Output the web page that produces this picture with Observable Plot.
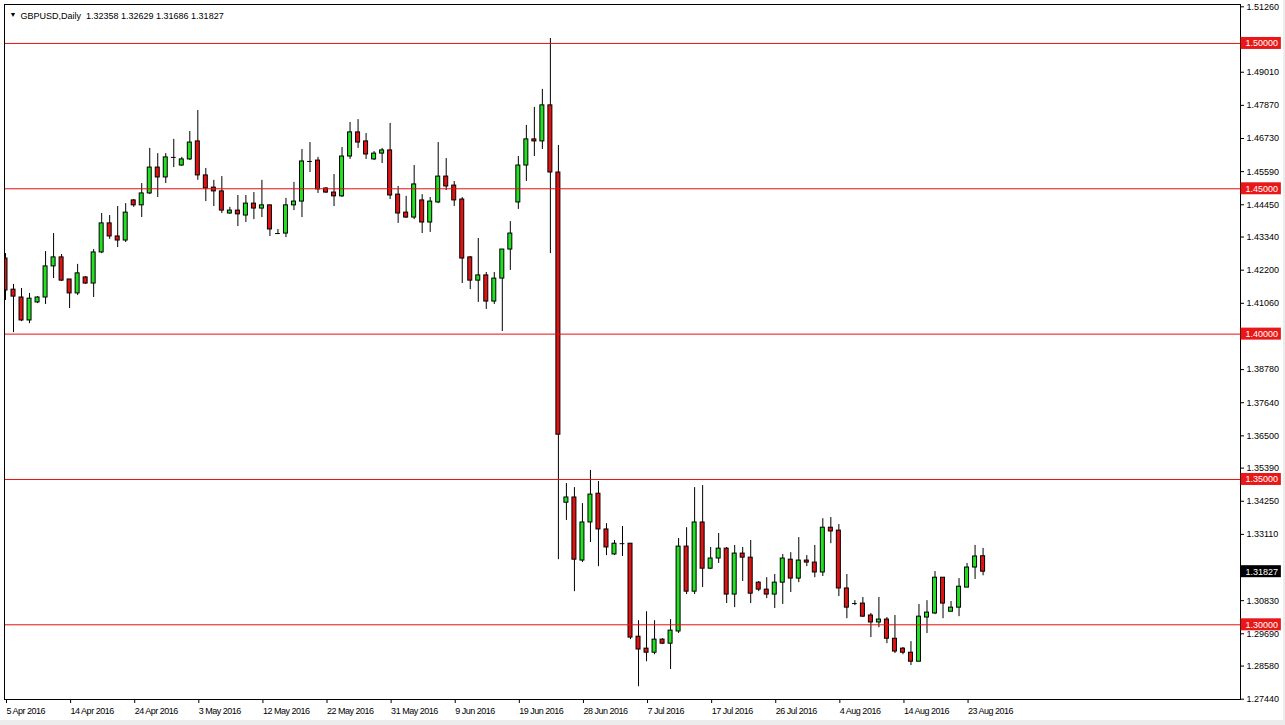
<!DOCTYPE html>
<html><head><meta charset="utf-8">
<script src="https://cdn.jsdelivr.net/npm/d3@7"></script>
<script src="https://cdn.jsdelivr.net/npm/@observablehq/plot@0.6"></script>
<style>
html,body{margin:0;padding:0;background:#ececec;}
#chart{width:1285px;height:725px;}
#chart svg{display:block;}
g[aria-label="x-axis tick label"] text{letter-spacing:-0.5px;}
</style></head><body><div id="chart"></div>
<script>
const symbol = "GBPUSD";
const timeframe = "Daily";
const open = [1.4260,1.4153,1.4126,1.4047,1.4109,1.4126,1.4233,1.4264,1.4188,1.4140,
1.4195,1.4174,1.4281,1.4381,1.4336,1.4322,1.4460,1.4443,1.4484,1.4573,
1.4539,1.4608,1.4580,1.4601,1.4663,1.4546,1.4504,1.4491,1.4415,1.4425,
1.4408,1.4449,1.4432,1.4443,1.4346,1.4346,1.4443,1.4456,1.4594,1.4597,
1.4501,1.4487,1.4474,1.4611,1.4694,1.4663,1.4601,1.4621,1.4632,1.4480,
1.4418,1.4401,1.4460,1.4384,1.4453,1.4542,1.4511,1.4463,1.4264,1.4184,
1.4202,1.4112,1.4191,1.4291,1.4453,1.4580,1.4670,1.4663,1.4787,1.4556,
1.3420,1.3438,1.3221,1.3352,1.3451,1.3328,1.3242,1.3279,1.3279,1.2959,
1.2918,1.2904,1.2949,1.2935,1.2977,1.3269,1.3114,1.3352,1.3193,1.3228,
1.3262,1.3104,1.3245,1.3231,1.3145,1.3121,1.3104,1.3145,1.3224,1.3159,
1.3221,1.3214,1.3180,1.3334,1.3324,1.3125,1.3073,1.3073,1.3032,1.3008,
1.3018,1.2952,1.2918,1.2904,1.2873,1.3025,1.3039,1.3162,1.3045,1.3059,
1.3128,1.3197,1.32358];
const high = [1.4277,1.4171,1.4157,1.4140,1.4129,1.4284,1.4346,1.4274,1.4188,1.4240,
1.4198,1.4291,1.4415,1.4408,1.4439,1.4449,1.4463,1.4518,1.4639,1.4621,
1.4621,1.4670,1.4608,1.4697,1.4769,1.4570,1.4529,1.4542,1.4436,1.4477,
1.4477,1.4487,1.4529,1.4443,1.4360,1.4467,1.4522,1.4635,1.4659,1.4608,
1.4504,1.4549,1.4642,1.4728,1.4738,1.4690,1.4628,1.4639,1.4725,1.4508,
1.4474,1.4580,1.4480,1.4470,1.4659,1.4604,1.4525,1.4470,1.4267,1.4329,
1.4212,1.4212,1.4291,1.4387,1.4611,1.4718,1.4780,1.4842,1.5017,1.4649,
1.3486,1.3472,1.3417,1.3531,1.3493,1.3348,1.3290,1.3338,1.3279,1.3014,
1.3045,1.3014,1.2952,1.3018,1.3297,1.3334,1.3472,1.3479,1.3266,1.3314,
1.3266,1.3273,1.3266,1.3290,1.3149,1.3162,1.3173,1.3242,1.3248,1.3300,
1.3238,1.3273,1.3365,1.3369,1.3345,1.3173,1.3083,1.3094,1.3039,1.3094,
1.3025,1.3032,1.2922,1.2942,1.3070,1.3083,1.3183,1.3162,1.3080,1.3159,
1.3211,1.3273,1.32629];
const low = [1.4116,1.4005,1.4043,1.4036,1.4105,1.4102,1.4191,1.4181,1.4088,1.4133,
1.4171,1.4126,1.4277,1.4326,1.4298,1.4315,1.4436,1.4401,1.4480,1.4470,
1.4518,1.4573,1.4577,1.4597,1.4529,1.4456,1.4439,1.4415,1.4412,1.4370,
1.4384,1.4394,1.4401,1.4336,1.4343,1.4332,1.4425,1.4401,1.4556,1.4484,
1.4484,1.4439,1.4470,1.4601,1.4639,1.4601,1.4597,1.4587,1.4463,1.4381,
1.4398,1.4394,1.4346,1.4350,1.4449,1.4494,1.4439,1.4174,1.4153,1.4109,
1.4085,1.4102,1.4009,1.4219,1.4429,1.4525,1.4611,1.4635,1.4277,1.3224,
1.3359,1.3114,1.3214,1.3283,1.3200,1.3238,1.3238,1.3235,1.2949,1.2787,
1.2873,1.2897,1.2932,1.2846,1.2970,1.3104,1.3104,1.3128,1.3190,1.3211,
1.3073,1.3059,1.3149,1.3073,1.3114,1.3090,1.3056,1.3070,1.3111,1.3145,
1.3200,1.3162,1.3166,1.3279,1.3097,1.3021,1.3066,1.3025,1.2956,1.2990,
1.2935,1.2901,1.2897,1.2860,1.2873,1.2970,1.3035,1.3021,1.3045,1.3028,
1.3128,1.3156,1.31686];
const close = [1.4150,1.4129,1.4047,1.4122,1.4126,1.4233,1.4264,1.4184,1.4140,1.4209,
1.4174,1.4281,1.4381,1.4336,1.4322,1.4418,1.4443,1.4484,1.4573,1.4539,
1.4608,1.4608,1.4601,1.4659,1.4546,1.4501,1.4491,1.4425,1.4425,1.4412,
1.4449,1.4432,1.4443,1.4360,1.4346,1.4443,1.4456,1.4594,1.4594,1.4498,
1.4487,1.4474,1.4611,1.4694,1.4659,1.4618,1.4621,1.4632,1.4477,1.4415,
1.4401,1.4515,1.4384,1.4456,1.4542,1.4508,1.4460,1.4260,1.4184,1.4202,
1.4112,1.4191,1.4291,1.4346,1.4580,1.4670,1.4663,1.4787,1.4556,1.3654,
1.3438,1.3224,1.3352,1.3448,1.3328,1.3266,1.3279,1.3279,1.2956,1.2915,
1.2904,1.2949,1.2935,1.2980,1.3269,1.3114,1.3352,1.3193,1.3228,1.3262,
1.3104,1.3245,1.3231,1.3107,1.3121,1.3104,1.3145,1.3228,1.3159,1.3221,
1.3214,1.3180,1.3334,1.3321,1.3125,1.3059,1.3073,1.3028,1.3008,1.3018,
1.2952,1.2908,1.2904,1.2873,1.3028,1.3042,1.3162,1.3073,1.3059,1.3131,
1.3197,1.3235,1.31827];
const levels = [1.50, 1.45, 1.40, 1.35, 1.30];
const priceTicks = [1.51260,1.49010,1.47870,1.46730,1.45590,1.44450,1.43340,1.42200,1.41060,
1.38780,1.37640,1.36500,1.35390,1.34250,1.33110,1.30830,1.29690,1.28580,1.27440];
const dateTickIndex = [0,8,16,24,32,40,48,56,64,72,80,88,96,104,112,120];
const dateTickLabels = ["5 Apr 2016","14 Apr 2016","24 Apr 2016","3 May 2016","12 May 2016","22 May 2016",
"31 May 2016","9 Jun 2016","19 Jun 2016","28 Jun 2016","7 Jul 2016","17 Jul 2016","26 Jul 2016",
"4 Aug 2016","14 Aug 2016","23 Aug 2016"];

const bars = open.map((o, i) => ({i, o, h: high[i], l: low[i], c: close[i]}));
const last = bars[bars.length - 1];
const header = `${symbol},${timeframe}  ${last.o.toFixed(5)} ${last.h.toFixed(5)} ${last.l.toFixed(5)} ${last.c.toFixed(5)}`;
const xDomain = [-0.125, 154.125];
const bull = "#22e022", bear = "#e01212", lineRed = "#e31010";

const chart = Plot.plot({
  width: 1283, height: 720,
  marginLeft: 4, marginRight: 43, marginTop: 4, marginBottom: 21,
  x: {domain: xDomain, label: null},
  y: {domain: [1.2743, 1.5134], label: null},
  style: {fontFamily: "'Liberation Sans', Arial, sans-serif", fontSize: "9px", background: "white", color: "black", overflow: "visible"},
  marks: [
    Plot.axisX({ticks: dateTickIndex, tickFormat: d => dateTickLabels[dateTickIndex.indexOf(d)],
      textAnchor: "start", tickSize: 4, tickPadding: 4, dx: 1, stroke: "black", label: null}),
    Plot.axisY({anchor: "right", ticks: priceTicks, tickFormat: d => d.toFixed(5), tickSize: 3, tickPadding: 3, label: null}),
    Plot.ruleX(bars, {x: "i", y1: "l", y2: "h", stroke: "black", clip: true}),
    Plot.rect(bars.filter(d => d.o !== d.c), {x1: d => d.i - 0.25, x2: d => d.i + 0.25, y1: "o", y2: "c",
      fill: d => d.c > d.o ? bull : bear, stroke: "black", strokeWidth: 1, clip: true}),
    Plot.ruleY(bars.filter(d => d.o === d.c), {y: "o", x1: d => d.i - 0.3, x2: d => d.i + 0.3, stroke: "black", clip: true}),
    Plot.ruleY(levels, {stroke: lineRed, strokeWidth: 1}),
    Plot.frame({stroke: "black"}),
    Plot.rect(levels, {x1: xDomain[1] + 0.07, x2: xDomain[1] + 5.1, y1: d => d, y2: d => d, insetTop: -6, insetBottom: -6, fill: "#e81818"}),
    Plot.text(levels, {x: xDomain[1], y: d => d, text: d => d.toFixed(5), textAnchor: "start", dx: 5, fill: "white"}),
    Plot.rect([last], {x1: xDomain[1] + 0.07, x2: xDomain[1] + 5.1, y1: "c", y2: "c", insetTop: -6, insetBottom: -6, fill: "black"}),
    Plot.text([last], {x: xDomain[1], y: "c", text: d => d.c.toFixed(5), textAnchor: "start", dx: 5, fill: "white"}),
    Plot.text(["▼"], {frameAnchor: "top-left", dx: 5, dy: 8, fontSize: 7, textAnchor: "start"}),
    Plot.text([header], {frameAnchor: "top-left", dx: 16, dy: 8, textAnchor: "start"})
  ]
});
document.getElementById("chart").appendChild(chart);
</script></body></html>
